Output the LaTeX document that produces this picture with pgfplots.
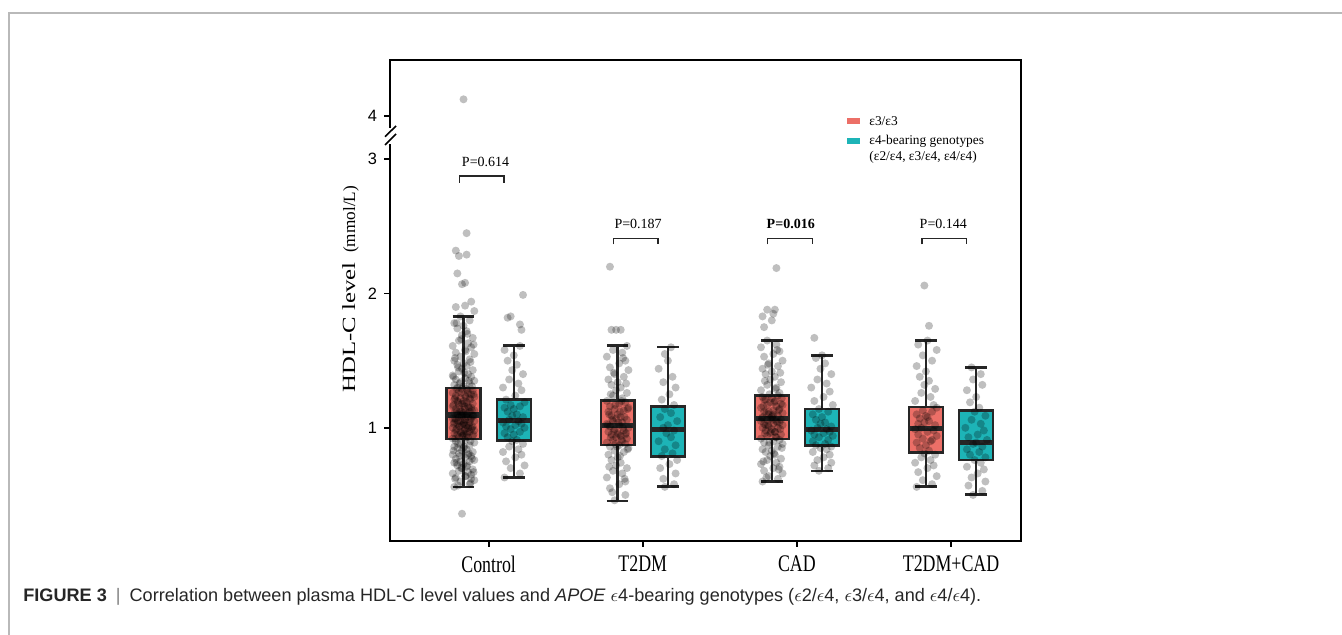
\documentclass[border=0pt]{standalone}
\usepackage{pgfplots}
\pgfplotsset{compat=1.18}
\usepackage{pgfplotstable}
\usepgfplotslibrary{statistics}
\usepackage{fontspec}
\setmainfont{Liberation Serif}
\newfontfamily\xlabfont[FakeStretch=0.75]{Liberation Serif}
\newfontfamily\ylabfont[FakeStretch=1.33]{Liberation Serif}
\newfontfamily\tsans{Liberation Sans}
\definecolor{redbox}{HTML}{EC6F67}
\definecolor{tealbox}{HTML}{1DB4B7}
\definecolor{boxline}{HTML}{262626}

% jittered points: dx = offset from the box centre, y = HDL-C (mmol/L)
\pgfplotstableread[row sep=\\]{dx y\\
-0.01 0.36\\ -0.06 0.56\\ 0.04 0.58\\ -0.02 0.60\\ 0.07 0.61\\ -0.05 0.63\\ 0.01 0.64\\ 0.05 0.65\\ -0.07 0.66\\ 0.03 0.67\\ -0.03 0.68\\ 0.06 0.69\\ -0.01 0.70\\ 0.02 0.71\\ -0.04 0.72\\ 0.00 0.73\\
-0.06 0.74\\ 0.04 0.75\\ -0.02 0.75\\ 0.07 0.76\\ -0.05 0.77\\ 0.01 0.78\\ 0.05 0.79\\ -0.07 0.80\\ 0.03 0.80\\ -0.03 0.81\\ 0.06 0.82\\ -0.01 0.83\\ 0.02 0.84\\ -0.04 0.85\\ 0.00 0.85\\
-0.06 0.86\\ 0.04 0.87\\ -0.02 0.88\\ 0.07 0.89\\ -0.05 0.90\\ 0.01 0.91\\ 0.05 0.62\\
-0.07 0.92\\ 0.03 0.93\\ -0.03 0.93\\ 0.06 0.94\\ -0.01 0.94\\ 0.02 0.95\\ -0.04 0.95\\ 0.00 0.96\\ -0.06 0.96\\ 0.04 0.97\\ -0.02 0.97\\ 0.07 0.98\\ -0.05 0.98\\ 0.01 0.99\\ 0.05 0.99\\ -0.07 1.00\\ 0.03 1.00\\ -0.03 1.01\\ 0.06 1.01\\ -0.01 1.02\\ 0.02 1.02\\ -0.04 1.03\\ 0.00 1.03\\ -0.06 1.04\\ 0.04 1.04\\ -0.02 1.05\\ 0.07 1.05\\ -0.05 1.06\\ 0.01 1.06\\ 0.05 1.07\\ -0.07 1.07\\ 0.03 1.08\\ -0.03 1.08\\ 0.06 1.09\\ -0.01 1.09\\
0.02 1.10\\ -0.04 1.10\\ 0.00 1.11\\ -0.06 1.11\\ 0.04 1.12\\ -0.02 1.12\\ 0.07 1.13\\ -0.05 1.14\\ 0.01 1.14\\ 0.05 1.15\\ -0.07 1.16\\ 0.03 1.16\\ -0.03 1.17\\ 0.06 1.18\\ -0.01 1.18\\ 0.02 1.19\\ -0.04 1.20\\ 0.00 1.20\\ -0.06 1.21\\ 0.04 1.22\\ -0.02 1.22\\ 0.07 1.23\\ -0.05 1.24\\ 0.01 1.24\\ 0.05 1.25\\ -0.07 1.26\\ 0.03 1.26\\ -0.03 1.27\\ 0.06 1.28\\ -0.01 1.29\\ 0.02 1.29\\ -0.04 1.30\\
0.00 1.31\\ -0.06 1.32\\ 0.04 1.33\\ -0.02 1.34\\ 0.07 1.35\\ -0.05 1.36\\ 0.01 1.37\\ 0.05 1.38\\ -0.07 1.39\\ 0.03 1.40\\ -0.03 1.42\\ 0.06 1.43\\ -0.01 1.44\\ 0.02 1.46\\ -0.04 1.47\\ 0.00 1.48\\ -0.06 1.50\\ 0.04 1.51\\ -0.02 1.53\\ 0.07 1.55\\ -0.05 1.56\\ 0.01 1.58\\ 0.05 1.60\\ -0.07 1.61\\ 0.03 1.63\\ -0.03 1.65\\ 0.06 1.67\\ -0.01 1.69\\ 0.02 1.72\\ -0.04 1.74\\ 0.00 1.76\\ -0.06 1.78\\ 0.04 1.80\\ -0.02 1.83\\
0.07 1.87\\ -0.05 1.90\\ 0.01 1.91\\ 0.05 1.94\\ -0.01 2.07\\ 0.01 2.08\\ -0.04 2.15\\ -0.03 2.28\\ 0.02 2.29\\ -0.05 2.32\\ 0.02 2.45\\ 0.00 3.447\\
-0.035 0.57\\ 0.045 0.59\\ -0.055 0.62\\ 0.015 0.64\\ 0.065 0.67\\ -0.015 0.70\\ 0.025 0.72\\ -0.045 0.74\\ 0.055 0.77\\ -0.025 0.79\\ 0.035 0.81\\ -0.065 0.83\\ 0.005 0.86\\ -0.035 0.88\\ 0.045 0.90\\ -0.055 0.92\\ 0.015 0.93\\ 0.065 0.95\\ -0.015 0.96\\ 0.025 0.97\\ -0.045 0.99\\ 0.055 1.00\\ -0.025 1.01\\ 0.035 1.02\\ -0.065 1.03\\ 0.005 1.04\\ -0.035 1.05\\ 0.045 1.06\\ -0.055 1.07\\ 0.015 1.08\\ 0.065 1.09\\ -0.015 1.10\\ 0.025 1.11\\ -0.045 1.12\\ 0.055 1.13\\ -0.025 1.14\\ 0.035 1.15\\ -0.065 1.17\\ 0.005 1.18\\ -0.035 1.19\\ 0.045 1.21\\ -0.055 1.22\\ 0.015 1.23\\ 0.065 1.25\\ -0.015 1.26\\ 0.025 1.28\\ -0.045 1.29\\ 0.055 1.31\\ -0.025 1.33\\ 0.035 1.35\\ -0.065 1.38\\ 0.005 1.41\\ -0.035 1.45\\ 0.045 1.49\\ -0.055 1.52\\ 0.015 1.57\\ 0.065 1.62\\ -0.015 1.66\\ 0.025 1.70\\ -0.045 1.78\\ 0.005 0.98\\ -0.005 1.06\\ 0.005 1.16\\ -0.005 0.94\\ 0.010 1.02\\ -0.010 1.12\\
}\ctrlred
\pgfplotstableread[row sep=\\]{dx y\\
-0.06 0.63\\ 0.04 0.66\\ -0.02 0.70\\ 0.07 0.72\\ -0.05 0.75\\ 0.01 0.78\\ 0.05 0.80\\ -0.07 0.82\\ 0.03 0.84\\ -0.03 0.86\\ 0.06 0.88\\ -0.01 0.90\\ 0.02 0.91\\ -0.04 0.93\\ 0.00 0.95\\ -0.06 0.96\\ 0.04 0.97\\ -0.02 0.99\\ 0.07 1.00\\ -0.05 1.01\\ 0.01 1.02\\ 0.05 1.03\\ -0.07 1.04\\ 0.03 1.05\\ -0.03 1.06\\ 0.06 1.08\\ -0.01 1.09\\ 0.02 1.10\\ -0.04 1.12\\ 0.00 1.14\\ -0.06 1.15\\ 0.04 1.16\\ -0.02 1.17\\ 0.07 1.19\\ -0.05 1.21\\ 0.01 1.24\\ 0.05 1.28\\ -0.07 1.30\\ 0.03 1.33\\ -0.03 1.36\\ 0.06 1.40\\ -0.01 1.43\\ 0.02 1.47\\ -0.04 1.50\\ 0.00 1.54\\ -0.06 1.58\\ 0.04 1.61\\ 0.05 1.73\\ 0.04 1.77\\ -0.04 1.82\\ -0.02 1.83\\ 0.06 1.99\\
}\ctrlteal
\pgfplotstableread[row sep=\\]{dx y\\
-0.02 0.46\\ 0.05 0.50\\ -0.05 0.55\\ 0.01 0.58\\ 0.05 0.60\\ -0.07 0.63\\ 0.03 0.66\\ -0.03 0.68\\ 0.06 0.70\\ -0.01 0.72\\ 0.02 0.74\\ -0.04 0.76\\ 0.00 0.78\\ -0.06 0.80\\ 0.04 0.82\\ -0.02 0.83\\ 0.07 0.85\\ -0.05 0.86\\ 0.01 0.87\\
0.05 0.88\\ -0.07 0.89\\ 0.03 0.90\\ -0.03 0.91\\ 0.06 0.92\\ -0.01 0.93\\ 0.02 0.94\\ -0.04 0.95\\ 0.00 0.96\\ -0.06 0.97\\ 0.04 0.98\\ -0.02 0.99\\ 0.07 1.00\\ -0.05 1.01\\ 0.01 1.02\\ 0.05 0.95\\
-0.07 1.03\\ 0.03 1.04\\ -0.03 1.05\\ 0.06 1.06\\ -0.01 1.07\\ 0.02 1.08\\ -0.04 1.09\\ 0.00 1.10\\ -0.06 1.12\\ 0.04 1.13\\ -0.02 1.14\\ 0.07 1.15\\ -0.05 1.16\\ 0.01 1.18\\ 0.05 1.19\\ -0.07 1.20\\
0.03 1.22\\ -0.03 1.24\\ 0.06 1.26\\ -0.01 1.28\\ 0.02 1.30\\ -0.04 1.32\\ 0.00 1.34\\ -0.06 1.36\\ 0.04 1.38\\ -0.02 1.40\\ 0.07 1.43\\ -0.05 1.45\\ 0.01 1.48\\ 0.05 1.50\\ -0.07 1.53\\ 0.03 1.56\\ -0.03 1.58\\ 0.06 1.61\\
-0.04 1.73\\ -0.01 1.73\\ 0.02 1.73\\ -0.05 2.20\\
-0.035 0.52\\ 0.045 0.62\\ -0.055 0.71\\ 0.015 0.79\\ 0.065 0.84\\ -0.015 0.88\\ 0.025 0.91\\ -0.045 0.93\\ 0.055 0.96\\ -0.025 0.98\\ 0.035 1.00\\ -0.065 1.02\\ 0.005 1.04\\ -0.035 1.06\\ 0.045 1.08\\ -0.055 1.10\\ 0.015 1.12\\ 0.065 1.14\\ -0.015 1.17\\ 0.025 1.20\\ -0.045 1.25\\ 0.055 1.33\\ -0.025 1.41\\ 0.035 1.52\\ -0.005 0.86\\ 0.005 0.95\\
}\tdmred
\pgfplotstableread[row sep=\\]{dx y\\
-0.02 0.56\\ 0.04 0.58\\ -0.03 0.62\\ 0.05 0.66\\ -0.05 0.70\\ 0.01 0.73\\ 0.06 0.76\\ -0.04 0.79\\ 0.03 0.81\\ -0.02 0.84\\ 0.05 0.87\\ -0.06 0.90\\ 0.02 0.93\\ -0.01 0.96\\ 0.04 0.98\\ -0.03 1.00\\ 0.00 1.02\\ 0.06 1.05\\ -0.05 1.08\\ 0.02 1.11\\ -0.02 1.14\\ 0.04 1.17\\ -0.04 1.21\\ 0.01 1.25\\ 0.05 1.30\\ -0.03 1.34\\ 0.03 1.38\\ -0.06 1.44\\ 0.00 1.50\\ -0.02 1.55\\ 0.02 1.60\\
}\tdmteal
\pgfplotstableread[row sep=\\]{dx y\\
-0.06 0.60\\ 0.04 0.62\\ -0.02 0.64\\ 0.07 0.66\\ -0.05 0.68\\ 0.01 0.70\\ 0.05 0.71\\ -0.07 0.73\\ 0.03 0.74\\ -0.03 0.76\\ 0.06 0.77\\ -0.01 0.79\\ 0.02 0.80\\ -0.04 0.82\\ 0.00 0.83\\ -0.06 0.84\\ 0.04 0.86\\ -0.02 0.87\\ 0.07 0.88\\ -0.05 0.89\\ 0.01 0.90\\ 0.05 0.91\\
-0.07 0.92\\ 0.03 0.93\\ -0.03 0.94\\ 0.06 0.95\\ -0.01 0.96\\ 0.02 0.97\\ -0.04 0.98\\ 0.00 0.99\\ -0.06 1.00\\ 0.04 1.00\\ -0.02 1.01\\ 0.07 1.02\\ -0.05 1.03\\ 0.01 1.03\\ 0.05 1.04\\ -0.07 1.05\\ 0.03 1.05\\ -0.03 1.06\\ 0.06 1.06\\ -0.01 1.07\\ 0.02 0.97\\ -0.04 1.02\\
0.00 1.08\\ -0.06 1.08\\ 0.04 1.09\\ -0.02 1.10\\ 0.07 1.11\\ -0.05 1.12\\ 0.01 1.13\\ 0.05 1.14\\ -0.07 1.15\\ 0.03 1.16\\ -0.03 1.17\\ 0.06 1.18\\ -0.01 1.19\\ 0.02 1.20\\ -0.04 1.21\\ 0.00 1.22\\ -0.06 1.23\\ 0.04 1.24\\ -0.02 1.12\\ 0.07 1.17\\ -0.05 1.21\\ 0.01 1.10\\
0.05 1.26\\ -0.07 1.28\\ 0.03 1.30\\ -0.03 1.32\\ 0.06 1.34\\ -0.01 1.36\\ 0.02 1.38\\ -0.04 1.40\\ 0.00 1.42\\ -0.06 1.44\\ 0.04 1.46\\ -0.02 1.48\\ 0.07 1.50\\ -0.05 1.53\\ 0.01 1.55\\ 0.05 1.57\\ -0.07 1.60\\ 0.03 1.62\\ -0.03 1.65\\
-0.05 1.75\\ 0.00 1.80\\ -0.06 1.83\\ 0.01 1.85\\ -0.03 1.88\\ 0.02 1.88\\ 0.03 2.19\\
-0.035 0.63\\ 0.045 0.69\\ -0.055 0.75\\ 0.015 0.81\\ 0.065 0.85\\ -0.015 0.89\\ 0.025 0.93\\ -0.045 0.96\\ 0.055 0.99\\ -0.025 1.02\\ 0.035 1.04\\ -0.065 1.07\\ 0.005 1.09\\ -0.035 1.11\\ 0.045 1.13\\ -0.055 1.16\\ 0.015 1.19\\ 0.065 1.22\\ -0.015 1.25\\ 0.025 1.29\\ -0.045 1.35\\ 0.055 1.41\\ -0.025 1.47\\ 0.035 1.58\\ -0.005 0.97\\ 0.005 1.06\\
}\cadred
\pgfplotstableread[row sep=\\]{dx y\\
-0.02 0.68\\ 0.04 0.70\\ -0.05 0.72\\ 0.06 0.74\\ -0.03 0.76\\ 0.01 0.78\\ 0.05 0.80\\ -0.06 0.82\\ 0.03 0.84\\ -0.01 0.85\\ 0.06 0.86\\ -0.04 0.87\\ 0.02 0.88\\ -0.06 0.90\\ 0.04 0.91\\ -0.02 0.93\\ 0.07 0.94\\ -0.05 0.95\\ 0.01 0.96\\ 0.05 0.97\\ -0.07 0.98\\ 0.03 0.99\\ -0.03 1.00\\ 0.06 1.01\\ -0.01 1.03\\ 0.02 1.04\\ -0.04 1.06\\ 0.00 1.08\\ -0.06 1.10\\ 0.04 1.12\\ -0.02 1.14\\ 0.07 1.17\\ -0.05 1.20\\ 0.01 1.23\\ 0.05 1.27\\ -0.07 1.30\\ 0.03 1.33\\ -0.03 1.36\\ 0.06 1.40\\ -0.01 1.44\\ 0.02 1.48\\ -0.04 1.52\\ 0.00 1.54\\ -0.05 1.67\\
}\cadteal
\pgfplotstableread[row sep=\\]{dx y\\
-0.06 0.56\\ 0.04 0.58\\ -0.02 0.61\\ 0.07 0.64\\ -0.05 0.67\\ 0.01 0.70\\ 0.05 0.72\\ -0.07 0.74\\ 0.03 0.76\\ -0.03 0.78\\ 0.06 0.80\\ -0.01 0.81\\
0.02 0.83\\ -0.04 0.85\\ 0.00 0.87\\ -0.06 0.89\\ 0.04 0.91\\ -0.02 0.92\\ 0.07 0.94\\ -0.05 0.95\\ 0.01 0.97\\ 0.05 0.98\\ -0.07 0.99\\ 0.03 0.90\\
-0.03 1.00\\ 0.06 1.02\\ -0.01 1.04\\ 0.02 1.05\\ -0.04 1.07\\ 0.00 1.09\\ -0.06 1.10\\ 0.04 1.12\\ -0.02 1.13\\ 0.07 1.15\\ -0.05 1.03\\ 0.01 1.08\\
0.05 1.17\\ -0.07 1.20\\ 0.03 1.23\\ -0.03 1.26\\ 0.06 1.29\\ -0.01 1.32\\ 0.02 1.35\\ -0.04 1.38\\ 0.00 1.42\\ -0.06 1.46\\ 0.04 1.50\\ -0.02 1.54\\ 0.07 1.58\\ -0.05 1.62\\ 0.01 1.65\\
0.02 1.76\\ -0.01 2.06\\
}\bothred
\pgfplotstableread[row sep=\\]{dx y\\
-0.02 0.50\\ 0.04 0.53\\ -0.05 0.57\\ 0.06 0.60\\ -0.03 0.63\\ 0.01 0.66\\ 0.05 0.69\\ -0.06 0.71\\ 0.03 0.74\\ -0.01 0.76\\ 0.06 0.78\\ -0.04 0.80\\ 0.02 0.82\\ -0.06 0.84\\ 0.04 0.86\\ -0.02 0.88\\ 0.00 0.89\\ 0.07 0.91\\ -0.05 0.93\\ 0.01 0.95\\ 0.05 0.98\\ -0.07 1.00\\ 0.03 1.03\\ -0.03 1.06\\ 0.06 1.09\\ -0.01 1.12\\ 0.02 1.15\\ -0.04 1.19\\ 0.00 1.23\\ -0.06 1.28\\ 0.04 1.32\\ -0.02 1.36\\ 0.03 1.40\\ -0.03 1.45\\
}\bothteal

\begin{document}
\begin{tikzpicture}[x=0.5pt,y=0.5pt]
\path[use as bounding box] (0,0) rectangle (1342,635);
% page frame (top and left rule)
\draw[gray!55, line width=0.9pt] (9,0) -- (9,622) -- (1342,622);

\begin{axis}[
  at={(195pt,47pt)}, anchor=south west,
  scale only axis, width=315.5pt, height=240.5pt,
  xmin=0.36, xmax=4.454, ymin=0.157, ymax=3.74,
  axis line style={line width=1pt},
  xtick={1,2,3,4}, xticklabels={Control,T2DM,CAD,T2DM+CAD},
  ytick={1,2,3,3.322}, yticklabels={1,2,3,4},
  tick align=outside, xtick pos=bottom, ytick pos=left,
  major tick length=3pt, tick style={line width=0.9pt, black},
  xticklabel style={font=\xlabfont\fontsize{11.9}{14}\selectfont, yshift=-1pt},
  yticklabel style={font=\tsans\fontsize{8.2}{10}\selectfont},
  boxplot/draw direction=y,
  boxplot/every median/.style={line width=2.6pt},
  jit/.style={only marks, mark=*, mark size=2pt, draw=none, fill=black,
    mark options={draw=none, draw opacity=0, fill=black, fill opacity=0.25}},
  bx/.style={fill=#1, draw=boxline, line width=1.2pt},
]
% boxes (prepared from the picture: whiskers, quartiles, median)
\addplot[bx=redbox, boxplot prepared={draw position=0.837, lower whisker=0.56, lower quartile=0.916, median=1.095, upper quartile=1.296, upper whisker=1.83, box extend=0.22, whisker extend=0.14}] coordinates {};
\addplot[bx=tealbox, boxplot prepared={draw position=1.163, lower whisker=0.629, lower quartile=0.905, median=1.054, upper quartile=1.211, upper whisker=1.612, box extend=0.22, whisker extend=0.14}] coordinates {};
\addplot[bx=redbox, boxplot prepared={draw position=1.837, lower whisker=0.457, lower quartile=0.873, median=1.02, upper quartile=1.204, upper whisker=1.612, box extend=0.22, whisker extend=0.14}] coordinates {};
\addplot[bx=tealbox, boxplot prepared={draw position=2.163, lower whisker=0.562, lower quartile=0.786, median=0.985, upper quartile=1.159, upper whisker=1.602, box extend=0.22, whisker extend=0.14}] coordinates {};
\addplot[bx=redbox, boxplot prepared={draw position=2.837, lower whisker=0.6, lower quartile=0.918, median=1.069, upper quartile=1.241, upper whisker=1.649, box extend=0.22, whisker extend=0.14}] coordinates {};
\addplot[bx=tealbox, boxplot prepared={draw position=3.163, lower whisker=0.679, lower quartile=0.868, median=0.985, upper quartile=1.142, upper whisker=1.54, box extend=0.22, whisker extend=0.14}] coordinates {};
\addplot[bx=redbox, boxplot prepared={draw position=3.837, lower whisker=0.562, lower quartile=0.816, median=0.995, upper quartile=1.154, upper whisker=1.649, box extend=0.22, whisker extend=0.14}] coordinates {};
\addplot[bx=tealbox, boxplot prepared={draw position=4.163, lower whisker=0.502, lower quartile=0.761, median=0.89, upper quartile=1.129, upper whisker=1.448, box extend=0.22, whisker extend=0.14}] coordinates {};

% jittered observations
\addplot[jit] table[x expr=\thisrow{dx}+0.837, y=y] {\ctrlred};
\addplot[jit] table[x expr=\thisrow{dx}+1.163, y=y] {\ctrlteal};
\addplot[jit] table[x expr=\thisrow{dx}+1.837, y=y] {\tdmred};
\addplot[jit] table[x expr=\thisrow{dx}+2.163, y=y] {\tdmteal};
\addplot[jit] table[x expr=\thisrow{dx}+2.837, y=y] {\cadred};
\addplot[jit] table[x expr=\thisrow{dx}+3.163, y=y] {\cadteal};
\addplot[jit] table[x expr=\thisrow{dx}+3.837, y=y] {\bothred};
\addplot[jit] table[x expr=\thisrow{dx}+4.163, y=y] {\bothteal};

% significance brackets
\draw[boxline, line width=0.75pt] (axis cs:0.81,2.826) -- (axis cs:0.81,2.875) -- (axis cs:1.10,2.875) -- (axis cs:1.10,2.826);
\draw[boxline, line width=0.75pt] (axis cs:1.81,2.366) -- (axis cs:1.81,2.41) -- (axis cs:2.10,2.41) -- (axis cs:2.10,2.366);
\draw[boxline, line width=0.75pt] (axis cs:2.81,2.366) -- (axis cs:2.81,2.41) -- (axis cs:3.10,2.41) -- (axis cs:3.10,2.366);
\draw[boxline, line width=0.75pt] (axis cs:3.81,2.366) -- (axis cs:3.81,2.41) -- (axis cs:4.10,2.41) -- (axis cs:4.10,2.366);
\node[anchor=base, inner sep=0, font=\fontsize{7}{8}\selectfont] at (axis cs:0.98,2.947) {P=0.614};
\node[anchor=base, inner sep=0, font=\fontsize{7}{8}\selectfont] at (axis cs:1.97,2.487) {P=0.187};
\node[anchor=base, inner sep=0, font=\fontsize{7}{8}\selectfont\bfseries] at (axis cs:2.96,2.487) {P=0.016};
\node[anchor=base, inner sep=0, font=\fontsize{7}{8}\selectfont] at (axis cs:3.95,2.487) {P=0.144};
\end{axis}

% axis break on the y axis between 3 and 4
\fill[white] (386,491) rectangle (394,507);
\draw[black, line width=0.8pt] (385,498.3) -- (396,509);
\draw[black, line width=0.8pt] (385,490) -- (396,501);

% y label
\node[rotate=90, anchor=base west, inner sep=0] at (355,242)
  {{\ylabfont\fontsize{9.3}{11}\selectfont HDL-C level}\hspace{5pt}{\fontsize{8.6}{10}\selectfont(mmol/L)}};

% legend
\fill[redbox] (847,510.5) rectangle (860,517);
\fill[tealbox] (847,490.5) rectangle (860,497);
\begin{scope}[every node/.style={anchor=west, inner sep=0, font=\fontsize{6.7}{8}\selectfont}]
\node at (869,514) {ε3/ε3};
\node at (869,494) {ε4-bearing genotypes};
\node at (869,478) {(ε2/ε4, ε3/ε4, ε4/ε4)};
\end{scope}

% caption
\node[anchor=base west, inner sep=0, text=black!85, font=\tsans\fontsize{9.05}{10}\selectfont] at (23,33)
  {\textbf{FIGURE 3}\enspace{\color{gray}|}\enspace Correlation between plasma HDL-C level values and \textit{APOE} $\epsilon$4-bearing genotypes ($\epsilon$2/$\epsilon$4, $\epsilon$3/$\epsilon$4, and $\epsilon$4/$\epsilon$4).};
\end{tikzpicture}
\end{document}
